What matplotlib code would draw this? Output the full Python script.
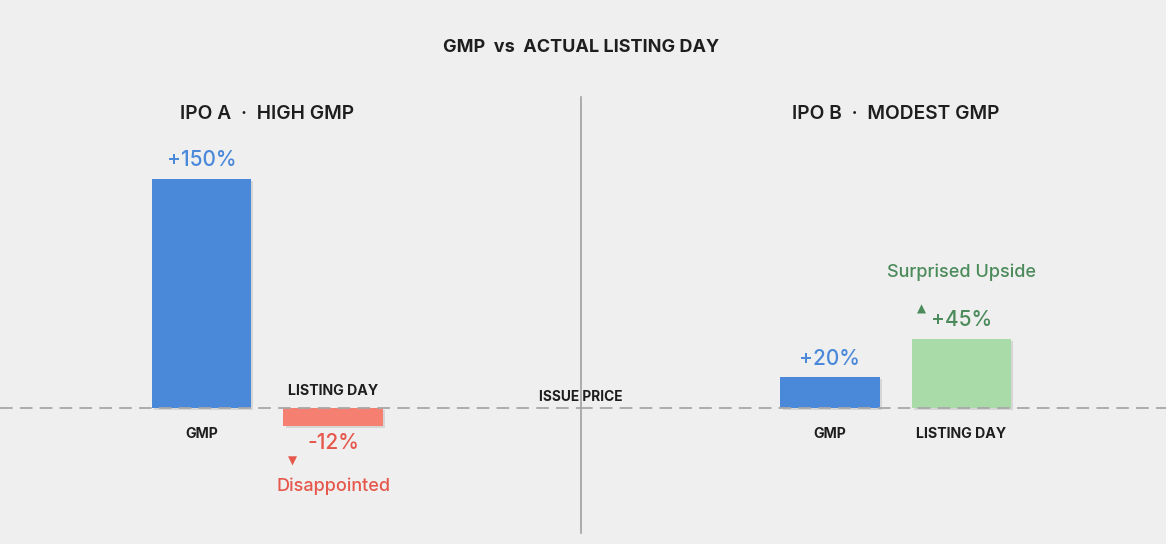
import matplotlib
matplotlib.use('Agg')
import matplotlib.pyplot as plt
import matplotlib.patheffects as pe
from matplotlib.transforms import blended_transform_factory
from matplotlib.lines import Line2D

# data
panel_titles = ['IPO A  ·  HIGH GMP', 'IPO B  ·  MODEST GMP']
categories = ['GMP', 'LISTING DAY']
ipo_a = [150, -12]
ipo_b = [20, 45]
value_labels_a = ['+150%', '-12%']
value_labels_b = ['+20%', '+45%']
chart_title = 'GMP  vs  ACTUAL LISTING DAY'
baseline_label = 'ISSUE PRICE'
note_a = 'Disappointed'
note_b = 'Surprised Upside'

BG = '#efefef'
BLUE = '#4a88da'
RED_BAR = '#f57f70'
RED_TXT = '#e5584b'
GREEN_BAR = '#a9dba9'
GREEN_TXT = '#4b8b5b'
DARK = '#1e1e1e'
GREY = '#a8a8a8'

plt.rcParams['font.family'] = ['Inter', 'DejaVu Sans']

W, H = 1166, 544
fig = plt.figure(figsize=(W / 100, H / 100), dpi=100, facecolor=BG)

split = 580 / W
axl = fig.add_axes([0, 0, split, 1])
axr = fig.add_axes([split, 0, 1 - split, 1])
ylim = (-88.9, 266.7)
axl.set_xlim(-1.532, 2.878)
axr.set_xlim(-1.901, 2.555)

shadow = [pe.SimplePatchShadow(offset=(1.5, -1.5), shadow_rgbFace='#000000', alpha=0.10), pe.Normal()]

def panel(ax, vals, colors, vlabels, vcolors, title):
    ax.set_facecolor(BG)
    ax.set_ylim(*ylim)
    ax.axis('off')
    xs = list(range(len(vals)))
    bars = ax.bar(xs, vals, width=0.753, color=colors, zorder=2)
    for b in bars:
        b.set_path_effects(shadow)
    tr = blended_transform_factory(ax.transData, ax.transAxes)
    ax.text(0.5, 1 - 114 / H, title, transform=tr, ha='center', va='center',
            fontsize=13.8, fontweight='semibold', color=DARK)
    for x, v, lab, c in zip(xs, vals, vlabels, vcolors):
        off = 13.5 if v > 0 else -12
        ax.annotate(lab, (x, v), xytext=(0, off), textcoords='offset points',
                    ha='center', va='center', fontsize=15, fontweight='medium', color=c)
    for x, v, cat in zip(xs, vals, categories):
        off = -19 if v > 0 else 12.5
        ax.annotate(cat, (x, 0), xytext=(0, off), textcoords='offset points',
                    ha='center', va='center', fontsize=10.2, fontweight='bold', color=DARK)
    return bars

panel(axl, ipo_a, [BLUE, RED_BAR], value_labels_a, [BLUE, RED_TXT], panel_titles[0])
panel(axr, ipo_b, [BLUE, GREEN_BAR], value_labels_b, [BLUE, GREEN_TXT], panel_titles[1])

# annotations for listing day outcome
axl.annotate('▼', (1, ipo_a[1]), xytext=(-29.5, -25), textcoords='offset points',
             ha='center', va='center', fontsize=8.5, color=RED_TXT, family='DejaVu Sans')
axl.annotate(note_a, (1, ipo_a[1]), xytext=(0, -43), textcoords='offset points',
             ha='center', va='center', fontsize=13, fontweight='medium', color=RED_TXT)
axr.annotate('▲', (1, ipo_b[1]), xytext=(-29, 21.5), textcoords='offset points',
             ha='center', va='center', fontsize=8.5, color=GREEN_TXT, family='DejaVu Sans')
axr.annotate(note_b, (1, ipo_b[1]), xytext=(0, 48), textcoords='offset points',
             ha='center', va='center', fontsize=13, fontweight='medium', color=GREEN_TXT)

# issue price baseline across both panels
for ax in (axl, axr):
    ax.axhline(0, color=GREY, lw=1.3, dashes=(7, 4), zorder=3)
btr = blended_transform_factory(fig.transFigure, axl.transData)
axl.annotate(baseline_label, (581 / W, 0), xycoords=btr, xytext=(0, 8), textcoords='offset points',
             ha='center', va='center', fontsize=9.9, fontweight='bold', color=DARK,
             annotation_clip=False)

# divider
fig.add_artist(Line2D([581 / W, 581 / W], [1 - 97 / H, 1 - 533 / H],
                      transform=fig.transFigure, color='#a0a0a0', lw=1.2))

fig.text(581 / W, 1 - 48 / H, chart_title, ha='center', va='center',
         fontsize=13, fontweight='bold', color=DARK)

fig.savefig('out.png', dpi=100, facecolor=BG)
